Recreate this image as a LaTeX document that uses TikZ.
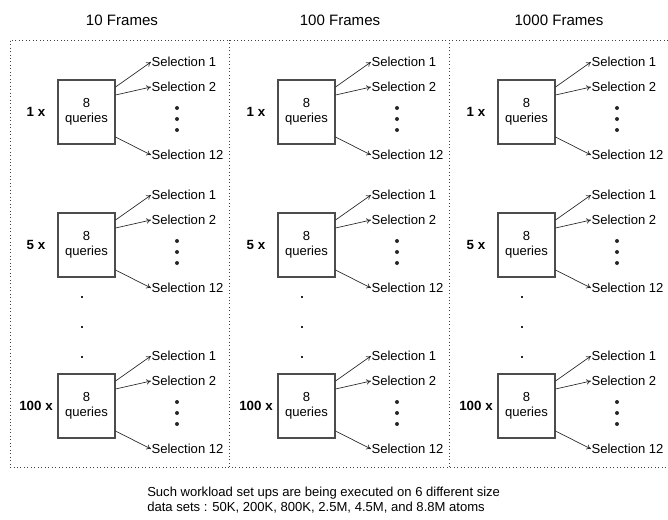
\documentclass[tikz,border=0pt]{standalone}
\usepackage{fontspec}
\setmainfont{Liberation Sans}
\usepackage{tikz}
\usetikzlibrary{arrows.meta, positioning, calc}

\begin{document}
\begin{tikzpicture}[
  x=0.75pt, y=-0.75pt,
  every node/.style={font=\fontsize{9.8}{11}\selectfont, align=center},
  title/.style={font=\fontsize{11.3}{13}\selectfont},
  qbox/.style={draw=black!70, line width=0.8pt, minimum width=42.75pt,
               minimum height=48pt, inner sep=1pt},
  mult/.style={font=\fontsize{10}{12}\selectfont\bfseries},
  sel/.style={anchor=west, inner sep=0pt, outer sep=0.4pt},
  bigdot/.style={circle, fill=black!85, inner sep=0pt, minimum size=3pt},
  smalldot/.style={rectangle, fill=black!85, inner sep=0pt, minimum size=1.6pt},
  arr/.style={-{To[length=3.5pt, width=4pt]}, black!85, line width=0.5pt},
  frame/.style={dotted, black!75, line width=0.6pt},
]
  \useasboundingbox (0,0) rectangle (668,519);

  % dotted frame, open at the right
  \draw[frame] (668,40) -- (10,40) -- (10,467) -- (668,467);
  \draw[frame] (229,40) -- (229,467);
  \draw[frame] (449,40) -- (449,467);

  % column titles
  \node[title] (t0) at (122,20) {10 Frames};
  \node[title] (t1) at (340,20) {100 Frames};
  \node[title] (t2) at (559,20) {1000 Frames};

  \foreach \c in {0,1,2} {
    \foreach \r/\cy/\m in {1/112/1 x, 2/245/5 x, 3/406/100 x} {
      \node[qbox] (q\c\r) at ({86.5+220*\c}, \cy) {8\\queries};
      \node[mult] (m\c\r) at ({36+220*\c}, \cy) {\m};
      \node[sel] (sa\c\r) at ({151+220*\c}, {\cy-50}) {Selection 1};
      \node[sel] (sb\c\r) at ({151+220*\c}, {\cy-25}) {Selection 2};
      \node[sel] (sc\c\r) at ({151+220*\c}, {\cy+43}) {Selection 12};
      \node[bigdot] (da\c\r) at ({177+220*\c}, {\cy-4}) {};
      \node[bigdot] (db\c\r) at ({177+220*\c}, {\cy+7}) {};
      \node[bigdot] (dc\c\r) at ({177+220*\c}, {\cy+18}) {};
      \draw[arr] ($(q\c\r.east)+(0,-25)$) -- (sa\c\r.west);
      \draw[arr] ($(q\c\r.east)+(0,-17)$) -- (sb\c\r.west);
      \draw[arr] ($(q\c\r.east)+(0,25)$) -- (sc\c\r.west);
    }
    \foreach \k/\dy in {1/297, 2/327, 3/357}
      \node[smalldot] (v\c\k) at ({82+220*\c}, \dy) {};
  }

  \node[anchor=west, align=left, inner sep=0pt,
        font=\fontsize{9.8}{11.25}\selectfont]
    (note) at (147,500)
    {Such workload set ups are being executed on 6 different size\\
     data sets : 50K, 200K, 800K, 2.5M, 4.5M, and 8.8M atoms};
\end{tikzpicture}
\end{document}
